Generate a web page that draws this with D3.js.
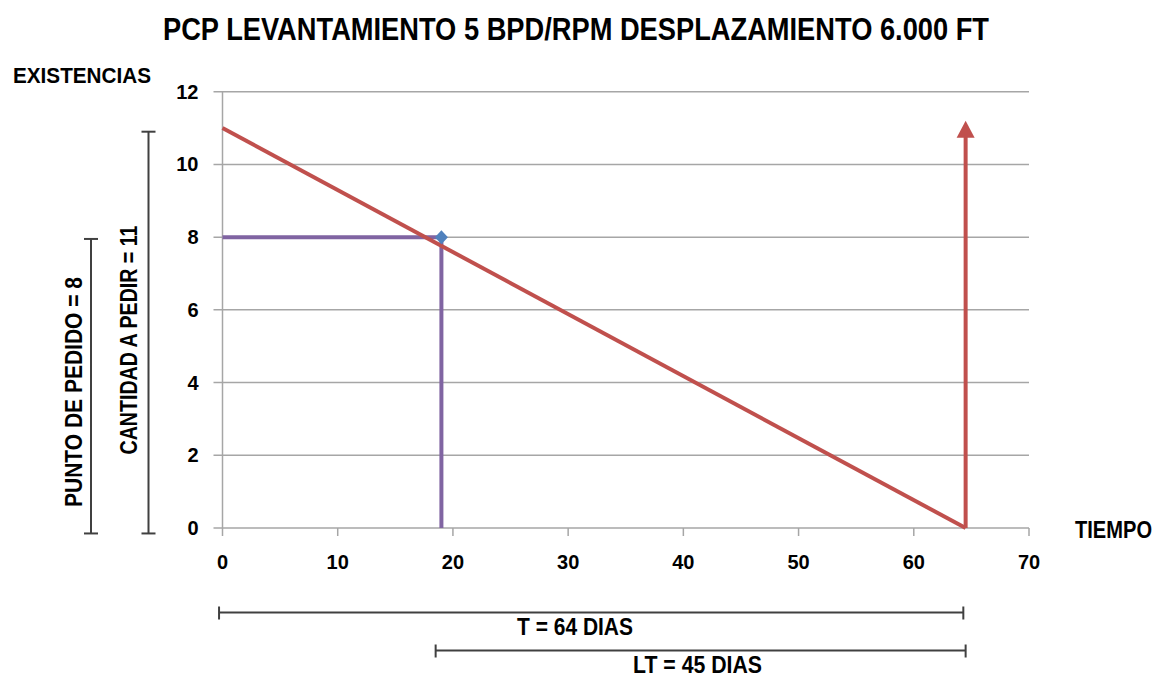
<!DOCTYPE html>
<html><head><meta charset="utf-8">
<script src="https://cdn.jsdelivr.net/npm/d3@7"></script>
<style>body{margin:0;background:#fff}svg{display:block}</style>
</head><body>
<svg id="c" width="1166" height="677"></svg>
<script>
const xTicks = [0,10,20,30,40,50,60,70];
const yTicks = [0,2,4,6,8,10,12];
const inventoryX = [0, 64.5];
const inventoryY = [11, 0];
const reorderPoint = [19, 8];
const replenishX = 64.5;
const replenishY = [0, 11.2];
const bracketT = [-0.3, 64.3];
const bracketLT = [18.5, 64.5];
const bracketQ = [-0.15, 10.9];
const bracketR = [-0.15, 7.95];
const title = "PCP LEVANTAMIENTO 5 BPD/RPM DESPLAZAMIENTO 6.000 FT";

const svg = d3.select("#c");
const x = d3.scaleLinear().domain([0,70]).range([222.5,1029]);
const y = d3.scaleLinear().domain([0,12]).range([528,91.7]);
const red = "#C0504D", purple = "#8064A2", blue = "#4F81BD", grid = "#A6A6A6", dark = "#404040";
const narrow = "'Liberation Sans Narrow','Arial Narrow',sans-serif";
const sans = "'Liberation Sans',Arial,sans-serif";

function label(xx, yy, txt, size, len, anchor, fam){
  return svg.append("text").attr("x",xx).attr("y",yy).attr("text-anchor",anchor||"start")
    .attr("font-family",fam||narrow).attr("font-weight","bold").attr("font-size",size)
    .attr("textLength",len).attr("lengthAdjust","spacingAndGlyphs").attr("fill","#000").text(txt);
}

label(576,40,title,32,826,"middle");

// gridlines
svg.append("g").selectAll("line").data(yTicks).join("line")
  .attr("x1",x(0)-9).attr("x2",x(70)).attr("y1",d=>y(d)).attr("y2",d=>y(d))
  .attr("stroke",grid).attr("stroke-width",1.5);
svg.append("line").attr("x1",x(0)).attr("x2",x(0)).attr("y1",y(12)).attr("y2",y(0)).attr("stroke",grid).attr("stroke-width",1.5);
svg.append("g").selectAll("line").data(xTicks).join("line")
  .attr("x1",d=>x(d)).attr("x2",d=>x(d)).attr("y1",y(0)).attr("y2",y(0)+8)
  .attr("stroke",grid).attr("stroke-width",1.5);

svg.append("g").selectAll("text").data(yTicks).join("text")
  .attr("x",x(0)-24).attr("y",d=>y(d)+7).attr("text-anchor","end")
  .attr("font-family",sans).attr("font-weight","bold").attr("font-size",20).text(d=>d);
svg.append("g").selectAll("text").data(xTicks).join("text")
  .attr("x",d=>x(d)).attr("y",y(0)+41).attr("text-anchor","middle")
  .attr("font-family",sans).attr("font-weight","bold").attr("font-size",20).text(d=>d);

label(13,83,"EXISTENCIAS",22,138);
label(1075,538,"TIEMPO",23,77);

// purple lines
svg.append("path").attr("d",d3.line()([[x(0),y(reorderPoint[1])],[x(reorderPoint[0]),y(reorderPoint[1])],[x(reorderPoint[0]),y(0)]]))
  .attr("fill","none").attr("stroke",purple).attr("stroke-width",4);
// red inventory line
svg.append("path").attr("d",d3.line().x(d=>x(d[0])).y(d=>y(d[1]))(inventoryX.map((v,i)=>[v,inventoryY[i]])))
  .attr("fill","none").attr("stroke",red).attr("stroke-width",4);
// diamond marker
const px = x(reorderPoint[0]), py = y(reorderPoint[1]);
svg.append("path").attr("d",`M${px},${py-7} L${px+6.5},${py} L${px},${py+7} L${px-6.5},${py} Z`).attr("fill",blue);
// arrow
const ax = x(replenishX), tipY = y(replenishY[1]);
svg.append("line").attr("x1",ax).attr("x2",ax).attr("y1",y(replenishY[0])).attr("y2",tipY+14)
  .attr("stroke",red).attr("stroke-width",4);
svg.append("path").attr("d",`M${ax},${tipY} L${ax-9},${tipY+17} L${ax+9},${tipY+17} Z`).attr("fill",red);

// brackets
function hBracket(vals,yy){
  const g=svg.append("g").attr("stroke",dark).attr("stroke-width",2);
  g.append("line").attr("x1",x(vals[0])).attr("x2",x(vals[1])).attr("y1",yy).attr("y2",yy);
  vals.forEach(v=>g.append("line").attr("x1",x(v)).attr("x2",x(v)).attr("y1",yy-6).attr("y2",yy+7));
}
function vBracket(vals,xx){
  const g=svg.append("g").attr("stroke",dark).attr("stroke-width",2);
  g.append("line").attr("x1",xx).attr("x2",xx).attr("y1",y(vals[0])).attr("y2",y(vals[1]));
  vals.forEach(v=>g.append("line").attr("x1",xx-7).attr("x2",xx+7).attr("y1",y(v)).attr("y2",y(v)));
}
hBracket(bracketT,612.5);
hBracket(bracketLT,650.5);
vBracket(bracketQ,148.5);
vBracket(bracketR,91);

label(517,635,"T = 64 DIAS",23,116);
label(633,673,"LT = 45 DIAS",23,129);

svg.append("text").attr("transform","translate(82,392) rotate(-90)").attr("text-anchor","middle")
  .attr("font-family",narrow).attr("font-weight","bold").attr("font-size",23)
  .attr("textLength",230).attr("lengthAdjust","spacingAndGlyphs").text("PUNTO DE PEDIDO = 8");
svg.append("text").attr("transform","translate(137,340) rotate(-90)").attr("text-anchor","middle")
  .attr("font-family",narrow).attr("font-weight","bold").attr("font-size",23)
  .attr("textLength",229).attr("lengthAdjust","spacingAndGlyphs").text("CANTIDAD A PEDIR = 11");
</script>
</body></html>
